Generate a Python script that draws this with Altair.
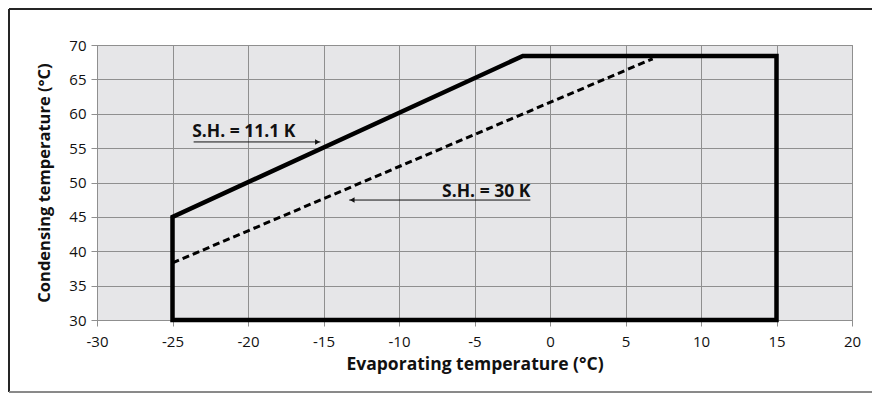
import altair as alt
import pandas as pd

# Envelope (S.H. = 11.1 K), solid outline
env_x = [-25, -25, -1.8, 15, 15, -25]
env_y = [30, 45, 68.4, 68.4, 30, 30]
# S.H. = 30 K, dashed boundary
sh30_x = [-25, 6.8]
sh30_y = [38.3, 68.0]

x_ticks = [-30, -25, -20, -15, -10, -5, 0, 5, 10, 15, 20]
y_ticks = [30, 35, 40, 45, 50, 55, 60, 65, 70]

# Annotations
ann_text = ["S.H. = 11.1 K", "S.H. = 30 K"]
ann_tx = [-23.7, -1.3]
ann_ty = [56.6, 47.9]
ann_align = ["left", "right"]
arrow_x1 = [-23.6, -13.3]
arrow_x2 = [-15.2, -1.3]
arrow_y = [55.9, 47.45]
arrow_head_x = [-15.4, -13.1]
arrow_head_shape = ["triangle-right", "triangle-left"]

FONT = "Open Sans"
W, H = 755, 275

env = pd.DataFrame({"x": env_x, "y": env_y, "o": list(range(len(env_x)))})
sh30 = pd.DataFrame({"x": sh30_x, "y": sh30_y, "o": [0, 1]})
ann = pd.DataFrame({"t": ann_text, "x": ann_tx, "y": ann_ty, "al": ann_align})
arr = pd.DataFrame({"x1": arrow_x1, "x2": arrow_x2, "y": arrow_y,
                    "hx": arrow_head_x, "shape": arrow_head_shape})

xs = alt.Scale(domain=[-30, 20], nice=False, zero=False)
ys = alt.Scale(domain=[30, 70], nice=False, zero=False)

xaxis = alt.Axis(values=x_ticks, title="Evaporating temperature (°C)", grid=True,
                 tickSize=6, labelPadding=8, titlePadding=6, domain=False,
                 labelExpr="datum.value", labelOverlap=False, labelFlush=False,
                 titleFontSize=17.5)
yaxis = alt.Axis(values=y_ticks, title="Condensing temperature (°C)", grid=True,
                 tickSize=6, labelPadding=5, titlePadding=16,
                 labelExpr="datum.value", labelOverlap=False, labelFlush=False)


def X(field):
    return alt.X(field, scale=xs, axis=xaxis)


def Y(field):
    return alt.Y(field, scale=ys, axis=yaxis)


base_env = alt.Chart(env).mark_line(color="black", strokeWidth=4.5, strokeJoin="miter",
                                    strokeCap="square").encode(
    x=X("x:Q"), y=Y("y:Q"), order="o:Q",
)

dash = alt.Chart(sh30).mark_line(color="black", strokeWidth=3, strokeDash=[7, 4]).encode(
    x=X("x:Q"), y=Y("y:Q"), order="o:Q"
)

txt_left = alt.Chart(ann[ann.al == "left"]).mark_text(
    font=FONT, fontWeight="bold", fontSize=17.5, align="left", baseline="alphabetic",
    color="#111"
).encode(x=X("x:Q"), y=Y("y:Q"), text="t:N")

txt_right = alt.Chart(ann[ann.al == "right"]).mark_text(
    font=FONT, fontWeight="bold", fontSize=17.5, align="right", baseline="alphabetic",
    color="#111"
).encode(x=X("x:Q"), y=Y("y:Q"), text="t:N")

arrows = alt.Chart(arr).mark_rule(color="#111", strokeWidth=1).encode(
    x=X("x1:Q"), x2="x2:Q", y=Y("y:Q")
)
heads = alt.Chart(arr).mark_point(filled=True, color="#111", size=30, opacity=1).encode(
    x=X("hx:Q"), y=Y("y:Q"),
    shape=alt.Shape("shape:N", scale=None, legend=None),
)

frame_top = alt.Chart(env).mark_rule(color="#222", strokeWidth=1).encode(
    x=alt.value(-88), x2=alt.value(W + 30), y=alt.value(-36)
)
frame_left = alt.Chart(env).mark_rule(color="#222", strokeWidth=1).encode(
    x=alt.value(-88), y=alt.value(-36), y2=alt.value(H + 72)
)
frame_bottom = alt.Chart(env).mark_rule(color="#888", strokeWidth=1).encode(
    x=alt.value(-88), x2=alt.value(W + 30), y=alt.value(H + 72)
)

chart = alt.layer(
    base_env, dash, arrows, heads, txt_left, txt_right, frame_top, frame_left, frame_bottom
).properties(
    width=W, height=H,
    autosize=alt.AutoSizeParams(type="none"),
    padding={"left": 89, "top": 37, "right": 20, "bottom": 73},
    background="white",
).configure_view(
    fill="#e6e6e8", stroke="#8a8a8a", strokeWidth=1
).configure_axis(
    gridColor="#8f8f8f", gridWidth=1, gridOpacity=1,
    domainColor="#8f8f8f", tickColor="#8f8f8f",
    labelFont=FONT, labelFontSize=15, labelColor="#111",
    titleFont=FONT, titleFontSize=16.5, titleFontWeight="bold", titleColor="#111",
)

chart.save("out.html", embed_options={"renderer": "svg", "actions": False})
